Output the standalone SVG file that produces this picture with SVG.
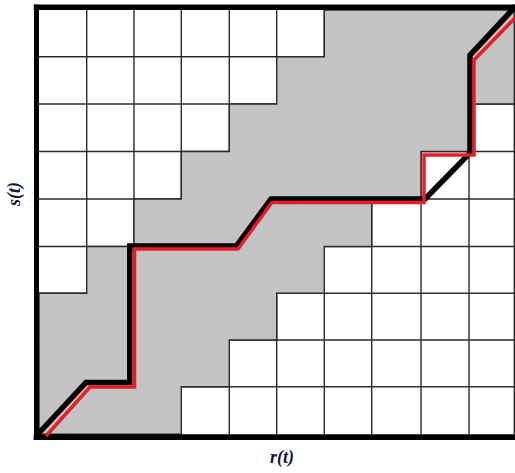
<svg xmlns="http://www.w3.org/2000/svg" width="515" height="473" viewBox="0 0 515 473">
<style>
.grid line{stroke:#2a2a2a;stroke-width:1.4}
.band{fill:#c3c3c3;stroke:#2a2a2a;stroke-width:1.4}
.frame{stroke:#000;stroke-linecap:square;fill:none}
.pathk{fill:none;stroke:#000;stroke-width:5.5;stroke-linejoin:miter}
.pathr{fill:none;stroke:#ed1c24;stroke-width:3.5;stroke-linejoin:miter}
.lbl{font-family:"Liberation Serif","Times New Roman",serif;font-weight:bold;font-style:italic;font-size:18px;fill:#15153a}
</style>
<rect x="0" y="0" width="515" height="473" fill="#fff"/>
<g id="grid" class="grid">
<line x1="86.7" y1="10" x2="86.7" y2="434.3"/>
<line x1="134" y1="10" x2="134" y2="434.3"/>
<line x1="181.3" y1="10" x2="181.3" y2="434.3"/>
<line x1="229.3" y1="10" x2="229.3" y2="434.3"/>
<line x1="276.7" y1="10" x2="276.7" y2="434.3"/>
<line x1="324.3" y1="10" x2="324.3" y2="434.3"/>
<line x1="371.7" y1="10" x2="371.7" y2="434.3"/>
<line x1="421" y1="10" x2="421" y2="434.3"/>
<line x1="469" y1="10" x2="469" y2="434.3"/>
<line x1="514.3" y1="10" x2="514.3" y2="434.3"/>
<line x1="39" y1="56.7" x2="514.3" y2="56.7"/>
<line x1="39" y1="104" x2="514.3" y2="104"/>
<line x1="39" y1="151.5" x2="514.3" y2="151.5"/>
<line x1="39" y1="199" x2="514.3" y2="199"/>
<line x1="39" y1="246.5" x2="514.3" y2="246.5"/>
<line x1="39" y1="293.3" x2="514.3" y2="293.3"/>
<line x1="39" y1="340" x2="514.3" y2="340"/>
<line x1="39" y1="386.8" x2="514.3" y2="386.8"/>
</g>
<g id="band">
<polygon class="band" points="324.3,10 514.3,10 514.3,104 469,104 469,151.5 421,151.5 421,199 371.7,199 371.7,246.5 324.3,246.5 324.3,293.3 276.7,293.3 276.7,340 229.3,340 229.3,386.8 181.3,386.8 181.3,434.3 39,434.3 39,293.3 86.7,293.3 86.7,246.5 134,246.5 134,199 181.3,199 181.3,151.5 229.3,151.5 229.3,104 276.7,104 276.7,56.7 324.3,56.7"/>
</g>
<g id="frame">
<line class="frame" x1="36.5" y1="7.2" x2="36.5" y2="437.2" stroke-width="5"/>
<line class="frame" x1="36.5" y1="7.2" x2="515" y2="7.2" stroke-width="5.5"/>
<line class="frame" x1="36.5" y1="437.2" x2="515" y2="437.2" stroke-width="5.7"/>
</g>
<g id="connectors">
<polyline id="black-path" class="pathk" points="38,434 86,382.5 129.8,382.5 129.8,246 236.5,246 271,199 425,199 470,153 470,55 516,6"/>
<polyline id="red-path" class="pathr" points="46,436 90,387 134.5,387 134.5,249 238,249 272,202.5 424,202.5 424,155 474,155 474,60 515,18"/>
</g>
<g id="labels">
<text class="lbl" x="282" y="463" text-anchor="middle">r(t)</text>
<text class="lbl" transform="translate(20,194) rotate(-90)" text-anchor="middle">s(t)</text>
</g>
</svg>
